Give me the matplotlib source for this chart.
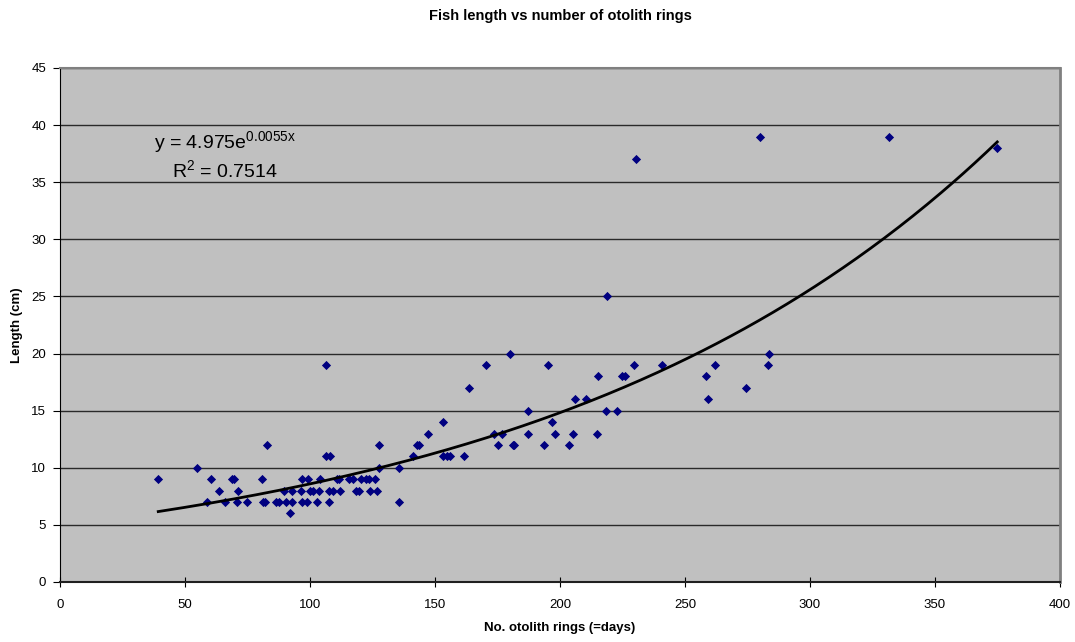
import numpy as np
import matplotlib
matplotlib.use("Agg")
import matplotlib.pyplot as plt

plt.rcParams['font.family'] = ['Liberation Sans', 'DejaVu Sans']
plt.rcParams['mathtext.fontset'] = 'custom'
plt.rcParams['mathtext.rm'] = 'Liberation Sans'
plt.rcParams['mathtext.it'] = 'Liberation Sans:italic'
plt.rcParams['mathtext.bf'] = 'Liberation Sans:bold'

rings = [39.3, 54.7, 58.7, 60.3, 63.6, 66, 68.7, 69.6, 71.1, 70.9, 74.9, 80.7, 81.3, 82.1, 82.8,
         86.3, 87.7, 89.6, 90.3, 92.7, 92.7, 92, 96.4, 96.9, 99.3, 96.9, 98.7, 100, 101.3, 103.6,
         102.8, 104, 106.4, 108.1, 106.4, 107.7, 109.1, 107.7, 110.7, 111.6, 112, 115.6, 117.3,
         118.4, 119.6, 120.4, 122.3, 123.7, 126, 124, 126.9, 127.6, 127.5, 135.5, 135.5,
         141.1, 142.9, 143.5, 147.3, 153.1, 153.1, 154.9, 156, 161.7, 163.7, 170.3, 173.7, 176.8,
         175, 180, 181, 181.6, 187, 187, 193.5, 195, 196.7, 198, 203.5, 205, 206, 210.4, 214.7,
         215.3, 218.3, 222.9, 224.9, 226, 229.6, 240.7, 218.8, 230.4, 280, 331.7, 374.9,
         258.5, 262, 259.3, 274.3, 283.5, 283.1]
length = [9, 10, 7, 9, 8, 7, 9, 9, 8, 7, 7, 9, 7, 7, 12,
          7, 7, 8, 7, 7, 8, 6, 8, 9, 9, 7, 7, 8, 8, 8,
          7, 9, 11, 11, 19, 8, 8, 7, 9, 9, 8, 9, 9,
          8, 8, 9, 9, 9, 9, 8, 8, 10, 12, 10, 7,
          11, 12, 12, 13, 14, 11, 11, 11, 11, 17, 19, 13, 13,
          12, 20, 12, 12, 15, 13, 12, 19, 14, 13, 12, 13, 16, 16, 13,
          18, 15, 15, 18, 18, 19, 19, 25, 37, 39, 39, 38,
          18, 19, 16, 17, 20, 19]

title = "Fish length vs number of otolith rings"
xlabel = "No. otolith rings (=days)"
ylabel = "Length (cm)"
eq_text = r"y = 4.975e$^{\mathrm{0.0055x}}$"
r2_text = r"R$^{\mathrm{2}}$ = 0.7514"
# trendline coefficients (displayed exponent is rounded)
fit_a = 4.975
fit_b = 0.00546

x = np.array(rings)
y = np.array(length)

fig = plt.figure(figsize=(10.75, 6.42), dpi=100)
ax = fig.add_axes([60/1075, 1 - 582/642, 1000/1075, 514/642])
ax.set_facecolor('#C0C0C0')

ax.set_xlim(0, 400)
ax.set_ylim(0, 45)
ax.set_xticks(np.arange(0, 401, 50))
ax.set_yticks(np.arange(0, 46, 5))
ax.yaxis.grid(True, color='#2a2a2a', linewidth=1)
ax.set_axisbelow(True)

ax.scatter(x, y, marker='D', s=22, color='#000080', zorder=3, linewidths=0)

xs = np.linspace(x.min(), x.max(), 300)
ax.plot(xs, fit_a * np.exp(fit_b * xs), color='black', linewidth=2, zorder=4)

ax.text(66, 38.5, eq_text, fontsize=14, ha='center', va='center')
ax.text(66, 36.1, r2_text, fontsize=14, ha='center', va='center')

ax.spines['top'].set_color('#808080')
ax.spines['top'].set_linewidth(1.5)
ax.spines['right'].set_color('#808080')
ax.spines['right'].set_linewidth(2)
ax.spines['left'].set_color('black')
ax.spines['bottom'].set_color('#202020')
ax.spines['bottom'].set_linewidth(1.5)
ax.tick_params(axis='y', direction='out', length=5, labelsize=9.5, colors='black', pad=5)
ax.tick_params(axis='x', direction='inout', length=7, labelsize=9.5, colors='black', pad=9)

ax.set_xlabel(xlabel, fontsize=9.5, fontweight='bold', labelpad=8)
ax.set_ylabel(ylabel, fontsize=9.5, fontweight='bold', labelpad=6)
fig.suptitle(title, fontsize=10.5, fontweight='bold', x=560/1075, y=1 - 16/642, va='center')

fig.savefig('out.png', dpi=100)
